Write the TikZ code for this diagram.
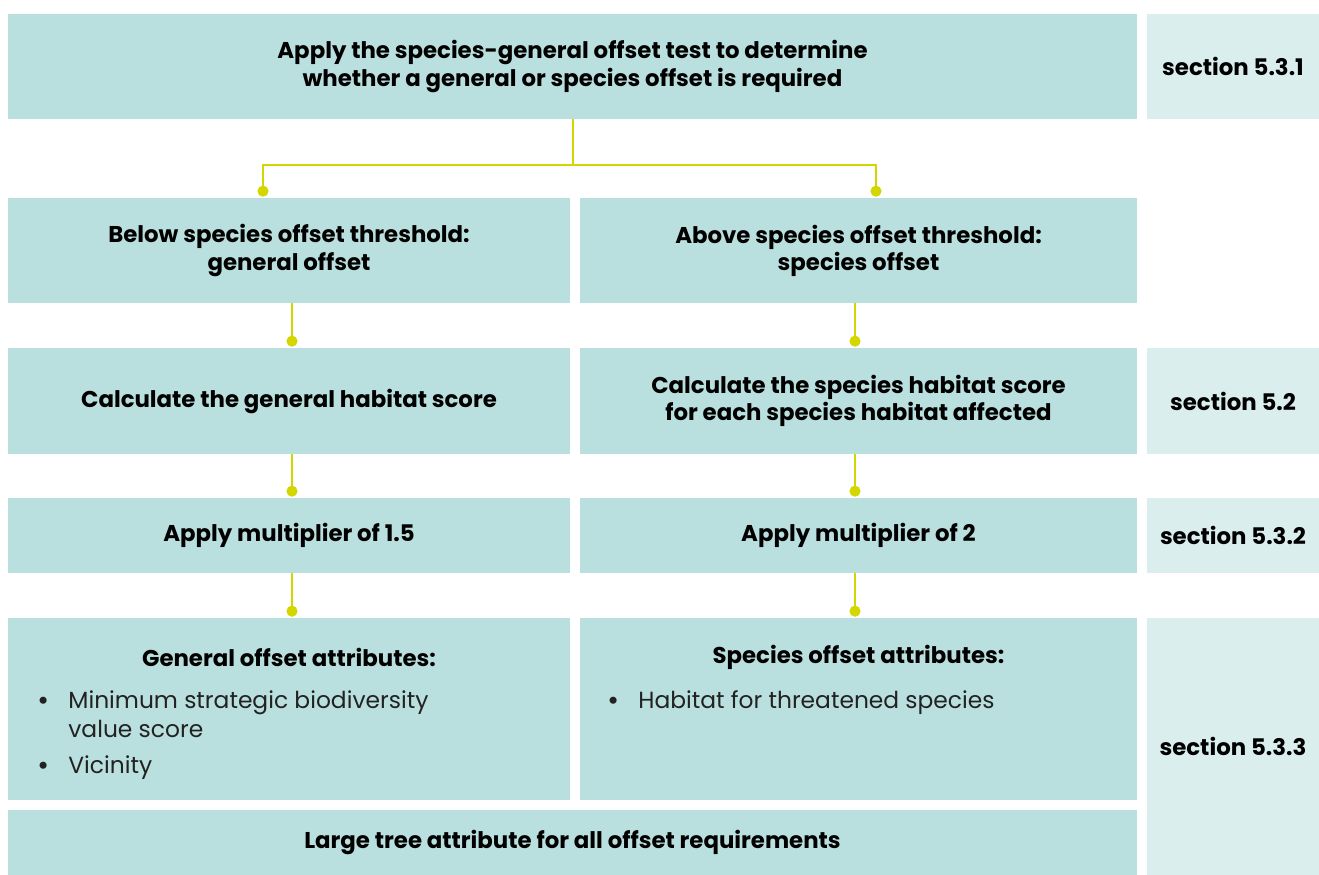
\documentclass[tikz,border=0pt]{standalone}
\usepackage{fontspec}
\setmainfont{Poppins}
\usetikzlibrary{arrows.meta}

\definecolor{boxc}{HTML}{B9E0DF}
\definecolor{secc}{HTML}{DBEEEE}
\definecolor{linkc}{HTML}{D4D600}
\definecolor{itemc}{HTML}{222222}

\tikzset{
  box/.style={fill=boxc, inner sep=0pt, align=center,
    font=\bfseries\fontsize{13}{15.4}\selectfont},
  secbox/.style={box, fill=secc, minimum width=3.44cm},
  link/.style={linkc, line width=0.04cm, -{Circle[length=0.22cm]}, shorten >=0.02cm},
  items/.style={anchor=north west, inner sep=0pt, text=itemc,
    font=\fontsize{13.3}{16.5}\selectfont}
}

\begin{document}
\begin{tikzpicture}[x=0.02cm, y=-0.02cm]
  \useasboundingbox (0,0) rectangle (1319,875);

  % boxes, row by row
  \node[box, minimum width=22.58cm, minimum height=2.1cm] (apply) at (572.5,66.5)
    {Apply the species-general offset test to determine\\whether a general or species offset is required};
  \node[secbox, minimum height=2.1cm] (sec1) at (1233,66.5) {section 5.3.1};

  \node[box, minimum width=11.24cm, minimum height=2.1cm] (below) at (289,250.5)
    {Below species offset threshold:\\general offset};
  \node[box, minimum width=11.14cm, minimum height=2.1cm] (above) at (858.5,250.5)
    {Above species offset threshold:\\species offset};

  \node[box, minimum width=11.24cm, minimum height=2.12cm] (calcg) at (289,401)
    {Calculate the general habitat score};
  \node[box, minimum width=11.14cm, minimum height=2.12cm] (calcs) at (858.5,401)
    {Calculate the species habitat score\\for each species habitat affected};
  \node[secbox, minimum height=2.12cm] (sec2) at (1233,401) {section 5.2};

  \node[box, minimum width=11.24cm, minimum height=1.5cm] (multg) at (289,535.5)
    {Apply multiplier of 1.5};
  \node[box, minimum width=11.14cm, minimum height=1.5cm] (mults) at (858.5,535.5)
    {Apply multiplier of 2};
  \node[secbox, minimum height=1.5cm] (sec3) at (1233,535.5) {section 5.3.2};

  \node[box, minimum width=11.24cm, minimum height=3.64cm] (attg) at (289,709) {};
  \node[box, minimum width=11.14cm, minimum height=3.64cm] (atts) at (858.5,709) {};
  \node[box, minimum width=22.58cm, minimum height=1.3cm] (tree) at (572.5,842.5)
    {Large tree attribute for all offset requirements};
  \node[secbox, minimum height=5.14cm] (sec4) at (1233,746.5) {section 5.3.3};

  % attribute lists
  \node[box, fill=none] at (289,657) {General offset attributes:};
  \node[items] at (37,688) {%
    \begin{tabular}{@{}l@{\hspace{11pt}}l@{}}
      \textbf{\textbullet} & Minimum strategic biodiversity\\
                           & value score\\[4pt]
      \textbf{\textbullet} & Vicinity
    \end{tabular}};
  \node[box, fill=none] at (858.5,657) {Species offset attributes:};
  \node[items] at (607,688) {%
    \begin{tabular}{@{}l@{\hspace{11pt}}l@{}}
      \textbf{\textbullet} & Habitat for threatened species
    \end{tabular}};

  % connectors
  \coordinate (lx) at (292,0);
  \coordinate (rx) at (855,0);
  \draw[link] (apply.south) -- ++(0,46) -| (below.north -| 263,0);
  \draw[link] (apply.south) -- ++(0,46) -| (above.north -| 876,0);
  \foreach \A/\B in {below/calcg, calcg/multg, multg/attg}
    \draw[link] (\A.south -| lx) -- (\B.north -| lx);
  \foreach \A/\B in {above/calcs, calcs/mults, mults/atts}
    \draw[link] (\A.south -| rx) -- (\B.north -| rx);
\end{tikzpicture}
\end{document}
